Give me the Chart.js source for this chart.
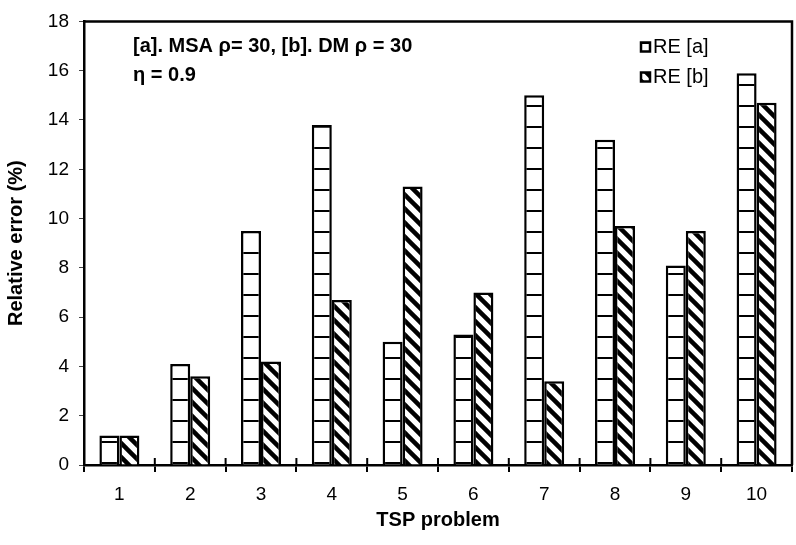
<!DOCTYPE html>
<html>
<head>
<meta charset="utf-8">
<script src="https://cdn.jsdelivr.net/npm/chart.js@4/dist/chart.umd.min.js"></script>
<style>
  html, body { margin: 0; padding: 0; background: #fff; }
  #wrap { width: 796px; height: 545px; }
</style>
</head>
<body>
<div id="wrap"><canvas id="reChart" width="796" height="545"></canvas></div>
<script>
// data
const problems = ["1", "2", "3", "4", "5", "6", "7", "8", "9", "10"];
const reA = [1.2, 4.1, 9.5, 13.8, 5.0, 5.3, 15.0, 13.2, 8.1, 15.9];
const reB = [1.2, 3.6, 4.2, 6.7, 11.3, 7.0, 3.4, 9.7, 9.5, 14.7];
const seriesLabels = ["RE [a]", "RE [b]"];
const noteLines = ["[a]. MSA \u03c1= 30, [b]. DM \u03c1 = 30", "\u03b7 = 0.9"];

const FONT = "'Liberation Sans', Arial, sans-serif";

// horizontal bricks for series a
function linePattern() {
    const c = document.createElement("canvas");
    c.width = 4; c.height = 21;
    const g = c.getContext("2d");
    g.fillStyle = "#fff";
    g.fillRect(0, 0, 4, 21);
    g.fillStyle = "#000";
    g.fillRect(0, 0, 4, 2);
    return g.createPattern(c, "repeat");
}

// "\" hatching for series b
function hatchPattern() {
    const s = 14;
    const c = document.createElement("canvas");
    c.width = s; c.height = s;
    const g = c.getContext("2d");
    g.fillStyle = "#fff";
    g.fillRect(0, 0, s, s);
    g.strokeStyle = "#000";
    g.lineWidth = 4.5;
    for (const k of [-s, 0, s]) {
        g.beginPath();
        g.moveTo(-s, -s + k);
        g.lineTo(2 * s, 2 * s + k);
        g.stroke();
    }
    return g.createPattern(c, "repeat");
}

const patA = linePattern();
const patB = hatchPattern();

const framePlugin = {
    id: "frame",
    afterDraw(chart) {
        const ctx = chart.ctx;
        const a = chart.chartArea;
        ctx.save();
        ctx.strokeStyle = "#000";
        ctx.lineWidth = 2.5;
        ctx.beginPath();
        ctx.moveTo(a.left, a.top);
        ctx.lineTo(a.right, a.top);
        ctx.lineTo(a.right, a.bottom);
        ctx.stroke();

        // x ticks poke up through the axis too
        const xs = chart.scales.x;
        ctx.lineWidth = 2;
        for (let i = 0; i <= problems.length; i++) {
            const x = xs.left + (xs.right - xs.left) * i / problems.length;
            ctx.beginPath();
            ctx.moveTo(x, a.bottom - 7);
            ctx.lineTo(x, a.bottom);
            ctx.stroke();
        }

        // note text
        ctx.fillStyle = "#000";
        ctx.font = "bold 20px " + FONT;
        ctx.textBaseline = "middle";
        ctx.textAlign = "left";
        ctx.fillText(noteLines[0], 133, 46);
        ctx.fillText(noteLines[1], 133, 75);

        // legend
        ctx.font = "20px " + FONT;
        chart.data.datasets.forEach((ds, i) => {
            const y = 47 + i * 30;
            ctx.fillStyle = ds.backgroundColor;
            ctx.fillRect(641, y - 4.5, 9, 9);
            ctx.strokeStyle = "#000";
            ctx.lineWidth = 2.5;
            ctx.strokeRect(641, y - 4.5, 9, 9);
            ctx.fillStyle = "#000";
            ctx.fillText(ds.label, 653, y);
        });
        ctx.restore();
    }
};

new Chart(document.getElementById("reChart"), {
    type: "bar",
    data: {
        labels: problems,
        datasets: [
            { label: seriesLabels[0], data: reA, backgroundColor: patA },
            { label: seriesLabels[1], data: reB, backgroundColor: patB }
        ]
    },
    options: {
        responsive: false,
        animation: false,
        events: [],
        layout: { padding: { top: 13, right: 4, left: 0, bottom: 0 } },
        datasets: {
            bar: {
                borderColor: "#000",
                borderWidth: 2.5,
                categoryPercentage: 0.565,
                barPercentage: 1
            }
        },
        plugins: {
            legend: { display: false },
            tooltip: { enabled: false }
        },
        scales: {
            x: {
                offset: true,
                afterFit: s => { s.height = 80; },
                grid: { offset: true, drawOnChartArea: false, tickLength: 7, color: "#000", lineWidth: 2 },
                border: { color: "#000", width: 2.5 },
                ticks: { color: "#000", padding: 11, font: { family: FONT, size: 19 } },
                title: {
                    display: true, text: "TSP problem", color: "#000",
                    font: { family: FONT, size: 20, weight: "bold" },
                    padding: { top: 0, bottom: 13 }
                }
            },
            y: {
                min: 0, max: 18,
                afterFit: s => { s.width = 84; },
                grid: { drawOnChartArea: false, tickLength: 5, color: "#444", lineWidth: 1 },
                border: { color: "#000", width: 2.5 },
                ticks: { stepSize: 2, color: "#000", padding: 10, font: { family: FONT, size: 19 } },
                title: {
                    display: true, text: "Relative error (%)", color: "#000",
                    font: { family: FONT, size: 20, weight: "bold" },
                    padding: { top: 4, bottom: 0 }
                }
            }
        }
    },
    plugins: [framePlugin]
});
</script>
</body>
</html>
